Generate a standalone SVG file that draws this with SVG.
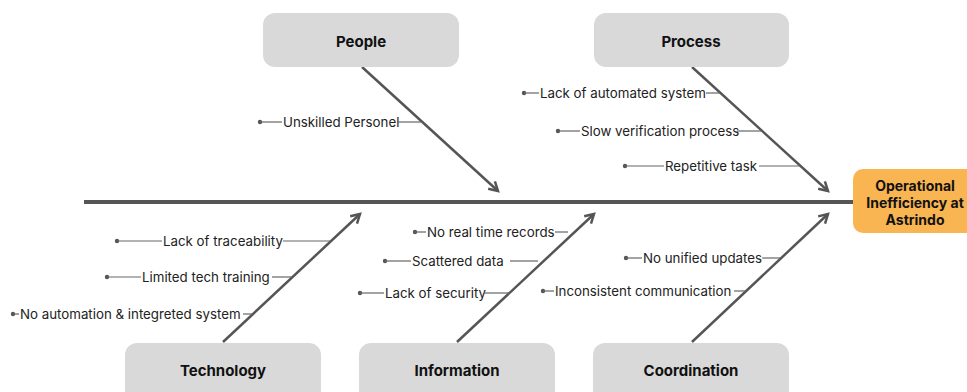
<svg xmlns="http://www.w3.org/2000/svg" width="967" height="392" viewBox="0 0 967 392">
<style>
.box{fill:#d9d9d9}
.title{font-family:Inter,"Liberation Sans",sans-serif;font-weight:700;font-size:15px;fill:#111;text-anchor:middle}
.lbl{font-family:Inter,"Liberation Sans",sans-serif;font-size:13.3px;fill:#222}
.bone{stroke:#555;stroke-width:2.5;fill:none;marker-end:url(#ah)}
.tick{stroke:#666;stroke-width:1.2;fill:none}
.dot{fill:#555}
.eff{font-size:14px}
</style>
<defs>
<marker id="ah" viewBox="0 0 10 10" refX="8" refY="5" markerWidth="5" markerHeight="5" orient="auto" markerUnits="strokeWidth">
<path d="M1,1 L8,5 L1,9" fill="none" stroke="#555" stroke-width="2"/>
</marker>
</defs>
<rect width="967" height="392" fill="#fff"/>
<g id="connectors">
<line x1="84" y1="202" x2="855" y2="202" stroke="#555" stroke-width="4"/>
<line class="bone" x1="362" y1="67" x2="498" y2="191"/>
<line class="bone" x1="692" y1="67" x2="828" y2="191"/>
<line class="bone" x1="223" y1="342" x2="360" y2="214"/>
<line class="bone" x1="457" y1="342" x2="594" y2="214"/>
<line class="bone" x1="692" y1="342" x2="828" y2="214"/>
</g>
<g id="people"><rect class="box" x="263" y="13" width="196" height="54" rx="12"/><text class="title" x="361" y="47">People</text></g>
<g id="process"><rect class="box" x="594" y="13" width="195" height="54" rx="12"/><text class="title" x="691" y="47">Process</text></g>
<g id="technology"><rect class="box" x="125" y="343" width="196" height="60" rx="12"/><text class="title" x="223" y="376">Technology</text></g>
<g id="information"><rect class="box" x="359" y="343" width="196" height="60" rx="12"/><text class="title" x="457" y="376">Information</text></g>
<g id="coordination"><rect class="box" x="593" y="343" width="196" height="60" rx="12"/><text class="title" x="691" y="376">Coordination</text></g>
<g id="effect"><rect x="853" y="169" width="130" height="64" rx="10" fill="#f9b552"/>
<text class="title eff" x="915" y="191">Operational</text>
<text class="title eff" x="915" y="208">Inefficiency at</text>
<text class="title eff" x="915" y="225">Astrindo</text></g>
<g id="cause-unskilled"><circle class="dot" cx="260" cy="122" r="2.2"/><line class="tick" x1="260" y1="122" x2="282" y2="122"/><text class="lbl" x="283" y="126.5">Unskilled Personel</text><line class="tick" x1="397" y1="122" x2="423" y2="122"/></g>
<g id="cause-automated"><circle class="dot" cx="524" cy="93" r="2.2"/><line class="tick" x1="524" y1="93" x2="539" y2="93"/><text class="lbl" x="540" y="97.5">Lack of automated system</text><line class="tick" x1="706" y1="93" x2="720" y2="93"/></g>
<g id="cause-slow"><circle class="dot" cx="558" cy="131" r="2.2"/><line class="tick" x1="558" y1="131" x2="580" y2="131"/><text class="lbl" x="581" y="135.5">Slow verification process</text><line class="tick" x1="737" y1="131" x2="762" y2="131"/></g>
<g id="cause-repetitive"><circle class="dot" cx="625" cy="166" r="2.2"/><line class="tick" x1="625" y1="166" x2="664" y2="166"/><text class="lbl" x="665" y="170.5">Repetitive task</text><line class="tick" x1="759" y1="166" x2="800" y2="166"/></g>
<g id="cause-traceability"><circle class="dot" cx="117" cy="241" r="2.2"/><line class="tick" x1="117" y1="241" x2="162" y2="241"/><text class="lbl" x="163" y="245.5">Lack of traceability</text><line class="tick" x1="283" y1="241" x2="331" y2="241"/></g>
<g id="cause-training"><circle class="dot" cx="107" cy="277" r="2.2"/><line class="tick" x1="107" y1="277" x2="141" y2="277"/><text class="lbl" x="142" y="281.5">Limited tech training</text><line class="tick" x1="272" y1="277" x2="292" y2="277"/></g>
<g id="cause-noautomation"><circle class="dot" cx="13" cy="314" r="2.2"/><line class="tick" x1="13" y1="314" x2="19" y2="314"/><text class="lbl" x="20" y="318.5">No automation &amp; integreted system</text><line class="tick" x1="243" y1="314" x2="253" y2="314"/></g>
<g id="cause-realtime"><circle class="dot" cx="415" cy="232" r="2.2"/><line class="tick" x1="415" y1="232" x2="426" y2="232"/><text class="lbl" x="427" y="236.5">No real time records</text><line class="tick" x1="555" y1="232" x2="568" y2="232"/></g>
<g id="cause-scattered"><circle class="dot" cx="385" cy="261" r="2.2"/><line class="tick" x1="385" y1="261" x2="411" y2="261"/><text class="lbl" x="412" y="265.5">Scattered data</text><line class="tick" x1="510" y1="261" x2="538" y2="261"/></g>
<g id="cause-security"><circle class="dot" cx="360" cy="293" r="2.2"/><line class="tick" x1="360" y1="293" x2="384" y2="293"/><text class="lbl" x="385" y="297.5">Lack of security</text><line class="tick" x1="484" y1="293" x2="510" y2="293"/></g>
<g id="cause-unified"><circle class="dot" cx="626" cy="258" r="2.2"/><line class="tick" x1="626" y1="258" x2="642" y2="258"/><text class="lbl" x="643" y="262.5">No unified updates</text><line class="tick" x1="762" y1="258" x2="780" y2="258"/></g>
<g id="cause-communication"><circle class="dot" cx="543" cy="291" r="2.2"/><line class="tick" x1="543" y1="291" x2="554" y2="291"/><text class="lbl" x="555" y="295.5">Inconsistent communication</text><line class="tick" x1="734" y1="291" x2="746" y2="291"/></g>
</svg>
